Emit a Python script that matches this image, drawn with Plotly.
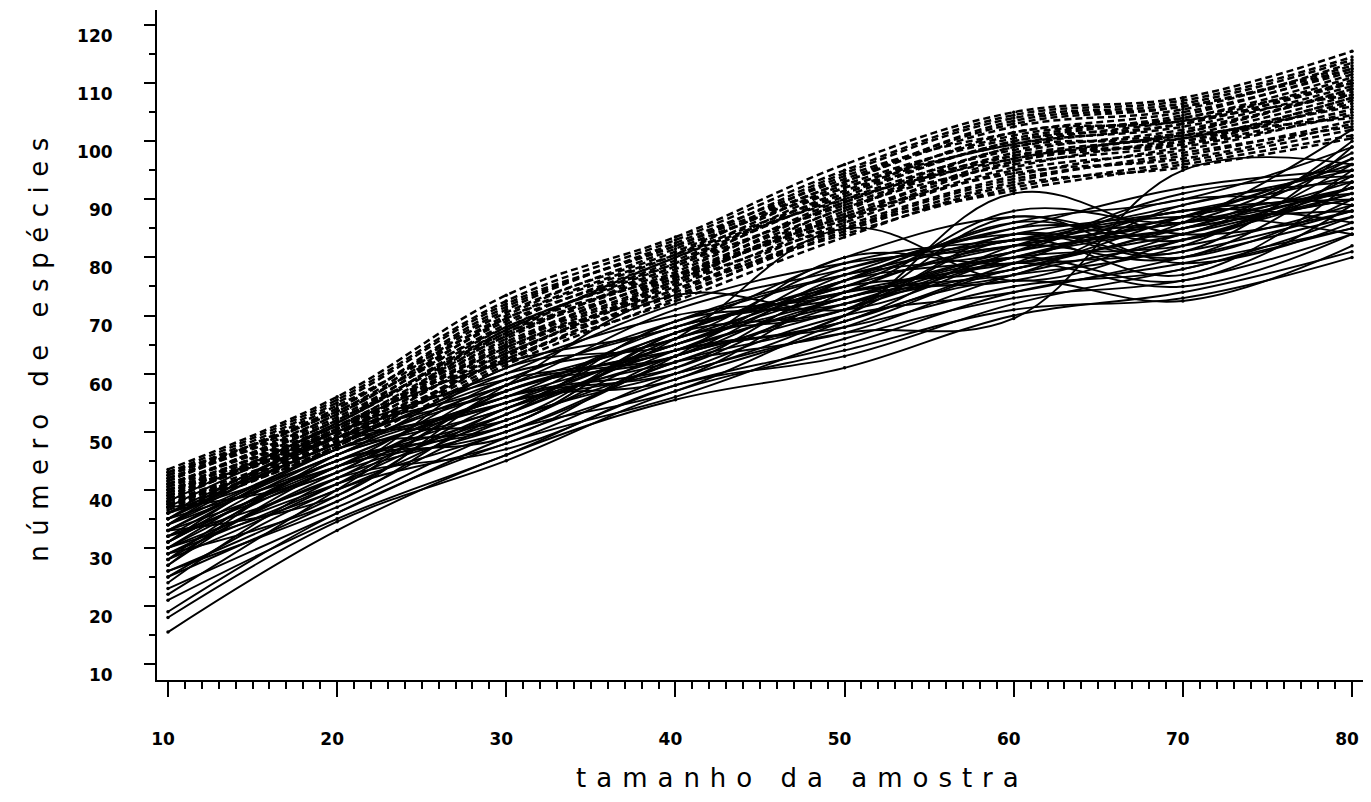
import plotly.graph_objects as go

# sample sizes (x positions of every curve)
sample_sizes = [10, 20, 30, 40, 50, 60, 70, 80]

# ---- dashed curves (upper group) ----
dashed_01 = [43.5, 56, 73.5, 83.5, 96, 105, 107.5, 115.5]
dashed_02 = [43, 55.5, 72.5, 83, 95, 104.5, 107, 114.5]
dashed_03 = [42.5, 55, 72, 82, 94.5, 104, 106.5, 114]
dashed_04 = [42, 54, 71, 82.5, 93.5, 103, 106, 113]
dashed_05 = [43, 53.5, 70.5, 81, 93, 102.5, 105.5, 113.5]
dashed_06 = [41.5, 54.5, 69.5, 80.5, 94, 101.5, 105, 112]
dashed_07 = [42, 53, 70, 81.5, 92, 101, 104, 111.5]
dashed_08 = [41, 52.5, 68.5, 80, 92.5, 100.5, 104.5, 112.5]
dashed_09 = [40.5, 53, 69, 79, 91, 101.5, 103.5, 111]
dashed_10 = [41, 52, 67.5, 79.5, 90.5, 100, 103, 110.5]
dashed_11 = [40, 51.5, 68, 78.5, 91.5, 99.5, 102.5, 109.5]
dashed_12 = [40.5, 51, 66.5, 78, 89.5, 99, 103, 110]
dashed_13 = [39.5, 52, 67, 77.5, 90, 98.5, 101.5, 109]
dashed_14 = [40, 50.5, 66, 78.5, 89, 98, 102, 108.5]
dashed_15 = [39, 51, 65.5, 77, 88.5, 97.5, 101, 108]
dashed_16 = [39.5, 50, 66.5, 76.5, 88, 99, 100.5, 107.5]
dashed_17 = [38.5, 50.5, 64.5, 76, 87.5, 96.5, 101.5, 109]
dashed_18 = [39, 49.5, 65, 77, 87, 97, 100, 106.5]
dashed_19 = [38, 49, 64, 75.5, 88.5, 96, 99.5, 107]
dashed_20 = [38.5, 50, 63.5, 75, 86.5, 95.5, 100.5, 106]
dashed_21 = [37.5, 48.5, 64.5, 74.5, 86, 95, 98.5, 105]
dashed_22 = [38, 48, 63, 75.5, 85.5, 94, 99, 104.5]
dashed_23 = [37, 49, 62.5, 74, 85, 93.5, 97.5, 103.5]
dashed_24 = [37.5, 47.5, 63.5, 73.5, 84.5, 93, 98, 102.5]
dashed_25 = [36.5, 48, 62, 74.5, 84, 92, 96.5, 102]
dashed_26 = [37, 47, 61.5, 73, 85, 91.5, 96, 101]
dashed_27 = [36, 47.5, 62.5, 72.5, 83.5, 92.5, 95.5, 100.5]
dashed_28 = [38, 51.5, 67, 80, 90, 97, 101, 104]
dashed_29 = [42.5, 54, 71.5, 82, 93, 103.5, 106, 112.5]
dashed_30 = [41, 52, 69.5, 80.5, 91, 100, 104, 110]
dashed_31 = [39, 50.5, 65, 76.5, 89.5, 97.5, 99.5, 105.5]
dashed_32 = [40, 49.5, 67.5, 77, 86.5, 96.5, 100, 107.5]
dashed_33 = [37.5, 48.5, 63, 76, 87, 94.5, 97, 103]
dashed_34 = [41.5, 53.5, 68, 79, 92, 99.5, 103.5, 108]

# ---- solid curves (lower group) ----
solid_01 = [15.5, 33, 46, 55.5, 61, 70, 74, 81]
solid_02 = [18, 34.5, 45, 57, 64, 71, 73, 80]
solid_03 = [19, 36, 48, 56, 66, 73, 76, 84]
solid_04 = [22, 40, 58, 73.5, 71, 80, 85, 90]
solid_05 = [27, 44, 53, 66, 85, 76, 83, 92]
solid_06 = [30, 41, 50, 62, 70, 91, 84, 88]
solid_07 = [25, 38, 52, 60, 67, 69.5, 95, 96]
solid_08 = [24, 42, 51, 64, 72, 78, 86, 102]
solid_09 = [26, 39, 55, 59, 74, 82, 80, 95]
solid_10 = [28, 45, 49, 63, 69, 79, 88, 86]
solid_11 = [29, 43, 56, 61, 73, 77, 89, 93]
solid_12 = [31, 46, 54, 67, 71, 84, 81, 99]
solid_13 = [32, 47, 57, 65, 76, 80, 87, 91]
solid_14 = [33, 44, 59, 68, 75, 86, 83, 94]
solid_15 = [34, 48, 55, 69, 77, 81, 90, 89]
solid_16 = [35, 49, 60, 66, 79, 83, 85, 97]
solid_17 = [36, 46, 61, 70, 74, 88, 86, 92]
solid_18 = [37, 50, 58, 71, 78, 85, 92, 95]
solid_19 = [38, 51, 62, 68, 80, 87, 84, 100]
solid_20 = [30, 40, 53, 64, 68, 75, 78, 87]
solid_21 = [28, 42, 47, 58, 65, 74, 79, 85]
solid_22 = [26, 37, 50, 57, 69, 76, 72.5, 82]
solid_23 = [32, 43, 52, 62, 72, 79, 75, 84]
solid_24 = [34, 45, 56, 60, 70, 83, 77, 93]
solid_25 = [29, 41, 54, 65, 73, 80, 82, 89]
solid_26 = [31, 47, 51, 67, 75, 78, 87, 96]
solid_27 = [33, 39, 57, 63, 77, 84, 80, 90]
solid_28 = [35, 44, 53, 69, 72, 81, 91, 94]
solid_29 = [27, 46, 55, 61, 76, 85, 86, 98]
solid_30 = [23, 36, 49, 59, 68, 78, 81, 88]
solid_31 = [36, 48, 60, 72, 79, 82, 88, 90]
solid_32 = [32, 42, 58, 63, 74, 76, 84, 92]
solid_33 = [30, 45, 51, 66, 71, 87, 79, 86]
solid_34 = [34, 50, 59, 64, 78, 83, 89, 95]
solid_35 = [29, 38, 54, 62, 67, 77, 83, 91]
solid_36 = [25, 40, 48, 60, 70, 74, 80, 87]
solid_37 = [33, 47, 56, 68, 73, 80, 76, 89]
solid_38 = [37, 43, 61, 65, 76, 86, 90, 99]
solid_39 = [31, 44, 50, 63, 80, 79, 85, 93]
solid_40 = [28, 41, 57, 64, 69, 82, 87, 84]
solid_41 = [35, 49, 52, 67, 74, 77, 82, 96]
solid_42 = [21, 35, 46, 58, 63, 72, 78, 85]
solid_43 = [34, 47, 58, 66, 75, 82, 86, 92]
solid_44 = [31, 45, 56, 64, 73, 81, 85, 90]
solid_45 = [33, 46, 55, 65, 74, 79, 84, 91]
solid_46 = [36, 49, 57, 67, 76, 84, 88, 94]
solid_47 = [30, 44, 54, 63, 71, 80, 86, 88]
solid_48 = [35, 48, 59, 69, 77, 83, 87, 97]

dashed_curves = [dashed_01, dashed_02, dashed_03, dashed_04, dashed_05, dashed_06, dashed_07,
                 dashed_08, dashed_09, dashed_10, dashed_11, dashed_12, dashed_13, dashed_14,
                 dashed_15, dashed_16, dashed_17, dashed_18, dashed_19, dashed_20, dashed_21,
                 dashed_22, dashed_23, dashed_24, dashed_25, dashed_26, dashed_27, dashed_28,
                 dashed_29, dashed_30, dashed_31, dashed_32, dashed_33, dashed_34]
solid_curves = [solid_01, solid_02, solid_03, solid_04, solid_05, solid_06, solid_07, solid_08,
                solid_09, solid_10, solid_11, solid_12, solid_13, solid_14, solid_15, solid_16,
                solid_17, solid_18, solid_19, solid_20, solid_21, solid_22, solid_23, solid_24,
                solid_25, solid_26, solid_27, solid_28, solid_29, solid_30, solid_31, solid_32,
                solid_33, solid_34, solid_35, solid_36, solid_37, solid_38, solid_39, solid_40,
                solid_41, solid_42, solid_43, solid_44, solid_45, solid_46, solid_47, solid_48]

x_tick_values = [10, 20, 30, 40, 50, 60, 70, 80]
y_tick_values = [10, 20, 30, 40, 50, 60, 70, 80, 90, 100, 110, 120]
x_title = "tamanho da amostra"
y_title = "número de espécies"

fig = go.Figure()

for ys in solid_curves:
    fig.add_trace(go.Scatter(
        x=sample_sizes, y=ys, mode="lines+markers",
        line=dict(color="black", width=1.9, shape="spline", smoothing=1.1),
        marker=dict(color="black", size=3.5),
        showlegend=False, hoverinfo="skip"))

for ys in dashed_curves:
    fig.add_trace(go.Scatter(
        x=sample_sizes, y=ys, mode="lines+markers",
        line=dict(color="black", width=2.5, dash="7px,4px", shape="spline", smoothing=1.1),
        marker=dict(color="black", size=3.5),
        showlegend=False, hoverinfo="skip"))

tick_font = dict(family="DejaVu Sans", size=17, color="black", weight="bold")
title_font = dict(family="DejaVu Sans", size=26, color="black")

# the page body has an 8px margin, so the figure is 16px smaller than the window
fig.update_layout(
    width=1355, height=786,
    margin=dict(l=149, r=0, t=2, b=114),
    paper_bgcolor="white", plot_bgcolor="white",
    xaxis=dict(
        range=[9.35, 80.65], tickvals=x_tick_values,
        showgrid=False, zeroline=False,
        showline=True, linecolor="black", linewidth=2,
        ticks="outside", ticklen=15, tickwidth=2, tickcolor="black",
        minor=dict(dtick=1, ticks="outside", ticklen=7, tickwidth=1.5, tickcolor="black", showgrid=False),
        tickfont=tick_font, ticklabelstandoff=28, ticklabelshift=-5,
    ),
    yaxis=dict(
        range=[7.25, 122.6], tickvals=y_tick_values,
        showgrid=False, zeroline=False,
        showline=True, linecolor="black", linewidth=2,
        ticks="outside", ticklen=11, tickwidth=2, tickcolor="black",
        minor=dict(dtick=5, ticks="outside", ticklen=6, tickwidth=1.5, tickcolor="black", showgrid=False),
        tickfont=tick_font, ticklabelstandoff=28, ticklabelshift=11,
        title=dict(text=y_title, font=title_font, standoff=21),
    ),
    annotations=[dict(
        text=x_title, xref="paper", yref="paper", x=0.535, y=-0.146,
        xanchor="center", yanchor="middle", showarrow=False, font=title_font,
    )],
)

post_js = """
var gd = document.getElementById('{plot_id}');
function spaceTitles(){
  gd.querySelectorAll('g.annotation text').forEach(function(t){ t.setAttribute('letter-spacing','10px'); });
  gd.querySelectorAll('text.ytitle').forEach(function(t){ t.setAttribute('letter-spacing','9.5px'); });
}
spaceTitles();
gd.on('plotly_afterplot', spaceTitles);
"""

fig.write_html("out.html", post_script=post_js)
